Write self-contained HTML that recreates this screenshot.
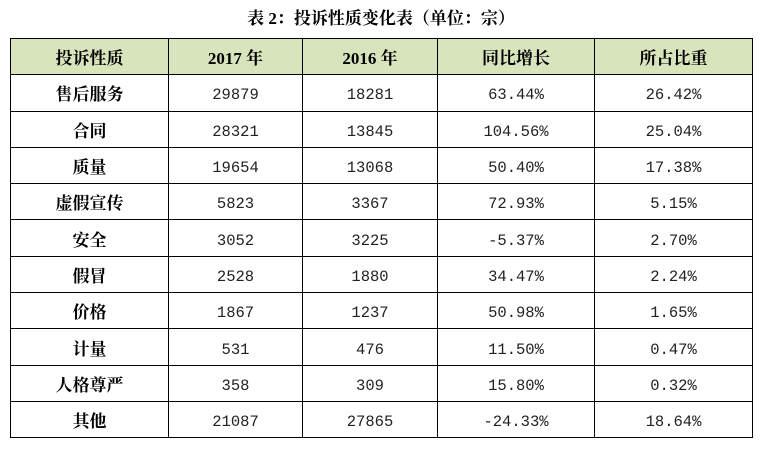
<!DOCTYPE html>
<html><head><meta charset="utf-8"><style>
body{margin:0;width:762px;height:449px;background:#fff;overflow:hidden;font-family:"Liberation Serif","Noto Serif CJK SC",serif;}
.t{position:absolute;top:4px;left:0;width:762px;text-align:center;font-weight:bold;font-size:17px;color:#000;}
table{position:absolute;left:10px;top:38px;border-collapse:collapse;}
tr{height:36.3px;}
td{border:1.5px solid #000;text-align:center;padding:0;font-family:"Liberation Mono","Noto Sans CJK SC",monospace;font-size:15.5px;color:#222;padding-top:5px;box-sizing:border-box;}
td:first-child{font-family:"Liberation Serif","Noto Serif CJK SC",serif;font-weight:bold;font-size:17px;color:#000;padding-top:0;}
tr.h td{background:#d8e4bc;font-family:"Liberation Serif","Noto Serif CJK SC",serif;font-weight:bold;font-size:17px;color:#000;padding-top:0;}
</style></head><body>
<div class="t">表 2：投诉性质变化表（单位：宗）</div>
<table>
<colgroup><col style="width:158px"><col style="width:134px"><col style="width:135px"><col style="width:157px"><col style="width:158px"></colgroup>
<tr class="h"><td>投诉性质</td><td>2017 年</td><td>2016 年</td><td>同比增长</td><td>所占比重</td></tr>
<tr><td>售后服务</td><td>29879</td><td>18281</td><td>63.44%</td><td>26.42%</td></tr>
<tr><td>合同</td><td>28321</td><td>13845</td><td>104.56%</td><td>25.04%</td></tr>
<tr><td>质量</td><td>19654</td><td>13068</td><td>50.40%</td><td>17.38%</td></tr>
<tr><td>虚假宣传</td><td>5823</td><td>3367</td><td>72.93%</td><td>5.15%</td></tr>
<tr><td>安全</td><td>3052</td><td>3225</td><td>-5.37%</td><td>2.70%</td></tr>
<tr><td>假冒</td><td>2528</td><td>1880</td><td>34.47%</td><td>2.24%</td></tr>
<tr><td>价格</td><td>1867</td><td>1237</td><td>50.98%</td><td>1.65%</td></tr>
<tr><td>计量</td><td>531</td><td>476</td><td>11.50%</td><td>0.47%</td></tr>
<tr><td>人格尊严</td><td>358</td><td>309</td><td>15.80%</td><td>0.32%</td></tr>
<tr><td>其他</td><td>21087</td><td>27865</td><td>-24.33%</td><td>18.64%</td></tr>
</table>
</body></html>
